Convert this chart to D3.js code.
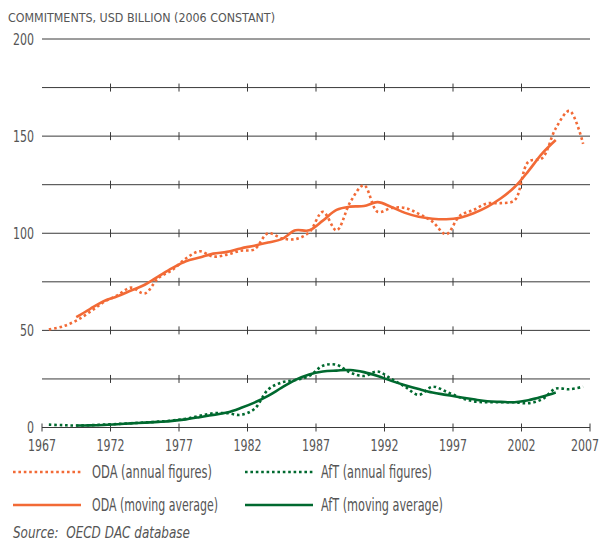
<!DOCTYPE html>
<html>
<head>
<meta charset="utf-8">
<script src="https://cdn.jsdelivr.net/npm/d3@7"></script>
<style>
    body { margin: 0; background: #fff; }
    svg text { font-family: "DejaVu Sans Condensed", "DejaVu Sans", sans-serif; font-stretch: condensed; fill: #555; }
</style>
</head>
<body>
<svg id="chart" width="606" height="543"></svg>
<script>
'use strict';

var years = [1967, 1968, 1969, 1970, 1971, 1972, 1973, 1974, 1975, 1976,
    1977, 1978, 1979, 1980, 1981, 1982, 1983, 1984, 1985, 1986,
    1987, 1988, 1989, 1990, 1991, 1992, 1993, 1994, 1995, 1996,
    1997, 1998, 1999, 2000, 2001, 2002, 2003, 2004, 2005, 2006];

// 5-year moving average, centred: 1969..2004
var avgYears = years.slice(2, 38);

var odaAnnual = [50.5, 52, 55, 59.5, 64.5, 68, 72, 69, 77, 81,
    87, 90.7, 88, 89, 91, 91.7, 100, 97.4, 97, 100.5,
    111, 101.5, 116, 124.7, 111, 113, 113, 110, 106, 99.5,
    109, 112, 115.4, 115.5, 117, 136.8, 138.6, 154, 163, 146];

var odaAvg = [56.8, 61, 65, 67.5, 70.5, 73.5, 77.8, 82, 85.6, 87.5,
    89.5, 90.4, 92.2, 93.6, 95.2, 97, 101.5, 101.5, 106.5, 112,
    113.7, 114, 116, 113.5, 110.5, 108.5, 107.5, 107.2, 108, 110.3,
    113.6, 118, 123.8, 132, 141, 148];

var aftAnnual = [1.5, 1.2, 1, 1.2, 1.5, 1.8, 2.2, 2.6, 3, 3.6,
    4.5, 6, 7.3, 7.4, 6.5, 9.5, 19.5, 23.2, 24.4, 26.5,
    31.8, 32.3, 28.3, 26.5, 28.8, 25, 21, 16.8, 21, 18.5,
    15.5, 13.5, 13, 13, 13, 12.5, 14.5, 20, 19.7, 21];

var aftAvg = [1, 1.1, 1.3, 1.7, 2.1, 2.5, 2.9, 3.4, 4.2, 5.3,
    6.5, 7.7, 10, 12.8, 16.3, 20.5, 24.5, 27.3, 28.8, 29.3,
    29.6, 28.5, 26.5, 24, 21.8, 19.8, 18, 16.8, 15.6, 14.5,
    13.5, 13.2, 13, 14, 15.8, 18];

var xTicks = [1967, 1972, 1977, 1982, 1987, 1992, 1997, 2002, 2007];
var yTicks = [0, 25, 50, 75, 100, 125, 150, 175, 200];
var yLabels = [0, 50, 100, 150, 200];

var legendItems = [
    {label: "ODA (annual figures)", color: "#f26a36", dotted: true, w: 120},
    {label: "AfT (annual figures)", color: "#00692f", dotted: true, w: 111},
    {label: "ODA (moving average)", color: "#f26a36", dotted: false, w: 126},
    {label: "AfT (moving average)", color: "#00692f", dotted: false, w: 122}
];

var orange = "#f26a36",
    green = "#00692f",
    grid = "#3a3a3a";

var svg = d3.select("#chart");

var x = d3.scaleLinear().domain([1967, 2007]).range([42, 590]);
var y = d3.scaleLinear().domain([0, 200]).range([427.5, 39]);

//squeeze text to the width seen in the print
function fit(sel, w) {
    sel.attr("textLength", w).attr("lengthAdjust", "spacingAndGlyphs");
}

//title
svg.append("text")
    .attr("x", 8)
    .attr("y", 22)
    .attr("font-size", 13)
    .call(fit, 267)
    .text("COMMITMENTS, USD BILLION (2006 CONSTANT)");

//gridlines with year ticks
yTicks.forEach(function (v) {
    var g = svg.append("g").attr("transform", "translate(0," + y(v) + ")");
    g.append("line")
        .attr("x1", x(1967)).attr("x2", x(2007))
        .attr("stroke", grid).attr("stroke-width", 1);
    if (v === 200) return;
    var ticks = v === 0 ? xTicks : xTicks.slice(1, -1);
    g.selectAll("line.tick")
        .data(ticks)
        .enter().append("line")
        .attr("class", "tick")
        .attr("x1", function (d) { return x(d); })
        .attr("x2", function (d) { return x(d); })
        .attr("y1", -4).attr("y2", 4)
        .attr("stroke", grid).attr("stroke-width", 1);
});

//y labels
svg.selectAll("text.ylab")
    .data(yLabels)
    .enter().append("text")
    .attr("class", "ylab")
    .attr("x", 34)
    .attr("y", function (d) { return y(d); })
    .attr("dy", "0.36em")
    .attr("text-anchor", "end")
    .attr("font-size", 16)
    .each(function (d) { d3.select(this).call(fit, String(d).length * 7); })
    .text(function (d) { return d; });

//x labels (last one kept inside the frame)
svg.selectAll("text.xlab")
    .data(xTicks)
    .enter().append("text")
    .attr("class", "xlab")
    .attr("x", function (d, i) { return i === xTicks.length - 1 ? 599 : x(d); })
    .attr("y", 451)
    .attr("text-anchor", function (d, i) { return i === xTicks.length - 1 ? "end" : "middle"; })
    .attr("font-size", 16)
    .call(fit, 28)
    .text(function (d) { return d; });

//points sit mid-year
var line = d3.line()
    .x(function (d) { return x(d[0] + 0.5); })
    .y(function (d) { return y(d[1]); })
    .curve(d3.curveCatmullRom);

function series(yrs, vals) {
    return yrs.map(function (yr, i) { return [yr, vals[i]]; });
}

function drawLine(data, color, dotted) {
    var p = svg.append("path")
        .attr("d", line(data))
        .attr("fill", "none")
        .attr("stroke", color)
        .attr("stroke-width", 2.6);
    if (dotted) p.attr("stroke-dasharray", "2.6,2.8");
}

drawLine(series(years, aftAnnual), green, true);
drawLine(series(years, odaAnnual), orange, true);
drawLine(series(avgYears, aftAvg), green, false);
drawLine(series(avgYears, odaAvg), orange, false);

//legend
var legend = svg.selectAll("g.legend")
    .data(legendItems)
    .enter().append("g")
    .attr("class", "legend")
    .attr("transform", function (d, i) {
        return "translate(" + (i % 2 ? 245 : 13) + "," + (i < 2 ? 472 : 505) + ")";
    });

legend.append("line")
    .attr("x1", 0).attr("x2", 68)
    .attr("stroke", function (d) { return d.color; })
    .attr("stroke-width", 2.6)
    .attr("stroke-dasharray", function (d) { return d.dotted ? "2.6,2.8" : null; });

legend.append("text")
    .attr("x", function (d, i) { return i % 2 ? 76 : 79; })
    .attr("dy", "0.36em")
    .attr("font-size", 17)
    .each(function (d) { d3.select(this).call(fit, d.w); })
    .text(function (d) { return d.label; });

//source
svg.append("text")
    .attr("x", 13)
    .attr("y", 538)
    .attr("font-size", 15)
    .attr("font-style", "italic")
    .style("white-space", "pre")
    .call(fit, 177)
    .text("Source:  OECD DAC database");
</script>
</body>
</html>
